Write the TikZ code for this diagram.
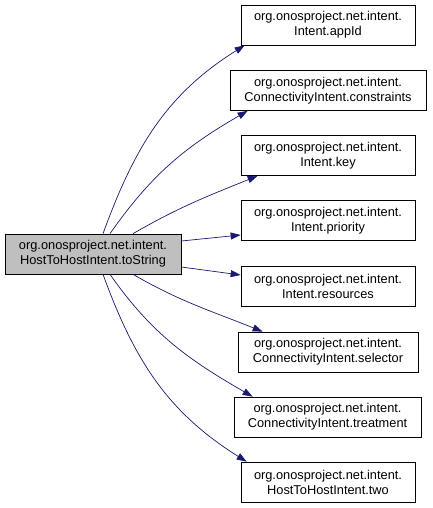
\documentclass[tikz,border=0pt]{standalone}
\usepackage{fontspec}
\setmainfont{Liberation Sans}
\usepackage{tikz}
\usetikzlibrary{arrows.meta,positioning}
\definecolor{callblue}{HTML}{191970}
\tikzstyle{block} = [rectangle, draw, line width=0.7pt, align=center, minimum width=174pt, minimum height=40pt, inner sep=2pt, font=\fontsize{12.8}{15}\selectfont]
\tikzstyle{call} = [draw=callblue, line width=0.7pt, -{Triangle[length=10pt,width=7pt]}, fill=none]

\begin{document}
\begin{tikzpicture}
  \useasboundingbox (0pt, 0pt) rectangle (432pt, -508pt);
  \draw (93pt, -254pt)node[block, fill=black!25, minimum width=176pt](main){org.onosproject.net.intent.\\HostToHostIntent.toString};
  \draw (328pt, -25pt)node[block](appid){org.onosproject.net.intent.\\Intent.appId};
  \draw (328pt, -90.5pt)node[block, minimum width=196pt](constr){org.onosproject.net.intent.\\ConnectivityIntent.constraints};
  \draw (328pt, -155.5pt)node[block](key){org.onosproject.net.intent.\\Intent.key};
  \draw (328pt, -220.5pt)node[block](prio){org.onosproject.net.intent.\\Intent.priority};
  \draw (328pt, -286pt)node[block](res){org.onosproject.net.intent.\\Intent.resources};
  \draw (328pt, -352pt)node[block, minimum width=180pt](sel){org.onosproject.net.intent.\\ConnectivityIntent.selector};
  \draw (327.5pt, -417pt)node[block, minimum width=187pt](treat){org.onosproject.net.intent.\\ConnectivityIntent.treatment};
  \draw (328pt, -482pt)node[block](two){org.onosproject.net.intent.\\HostToHostIntent.two};
  \path[call] ([xshift=10pt]main.north) to[out=70, in=212] ([xshift=4pt]appid.south west);
  \path[call] ([xshift=17pt]main.north) to[out=55, in=210] ([xshift=18pt]constr.south west);
  \path[call] ([xshift=40pt]main.north) to[out=30, in=202] ([xshift=17pt]key.south west);
  \path[call] ([yshift=13pt]main.east) -- ([yshift=-14.5pt]prio.west);
  \path[call] ([yshift=-13pt]main.east) -- ([yshift=11pt]res.west);
  \path[call] ([xshift=40pt]main.south) to[out=-30, in=158] ([xshift=25pt]sel.north west);
  \path[call] ([xshift=17pt]main.south) to[out=-55, in=150] ([xshift=19pt]treat.north west);
  \path[call] ([xshift=10pt]main.south) to[out=-70, in=148] ([xshift=6pt]two.north west);
\end{tikzpicture}
\end{document}
